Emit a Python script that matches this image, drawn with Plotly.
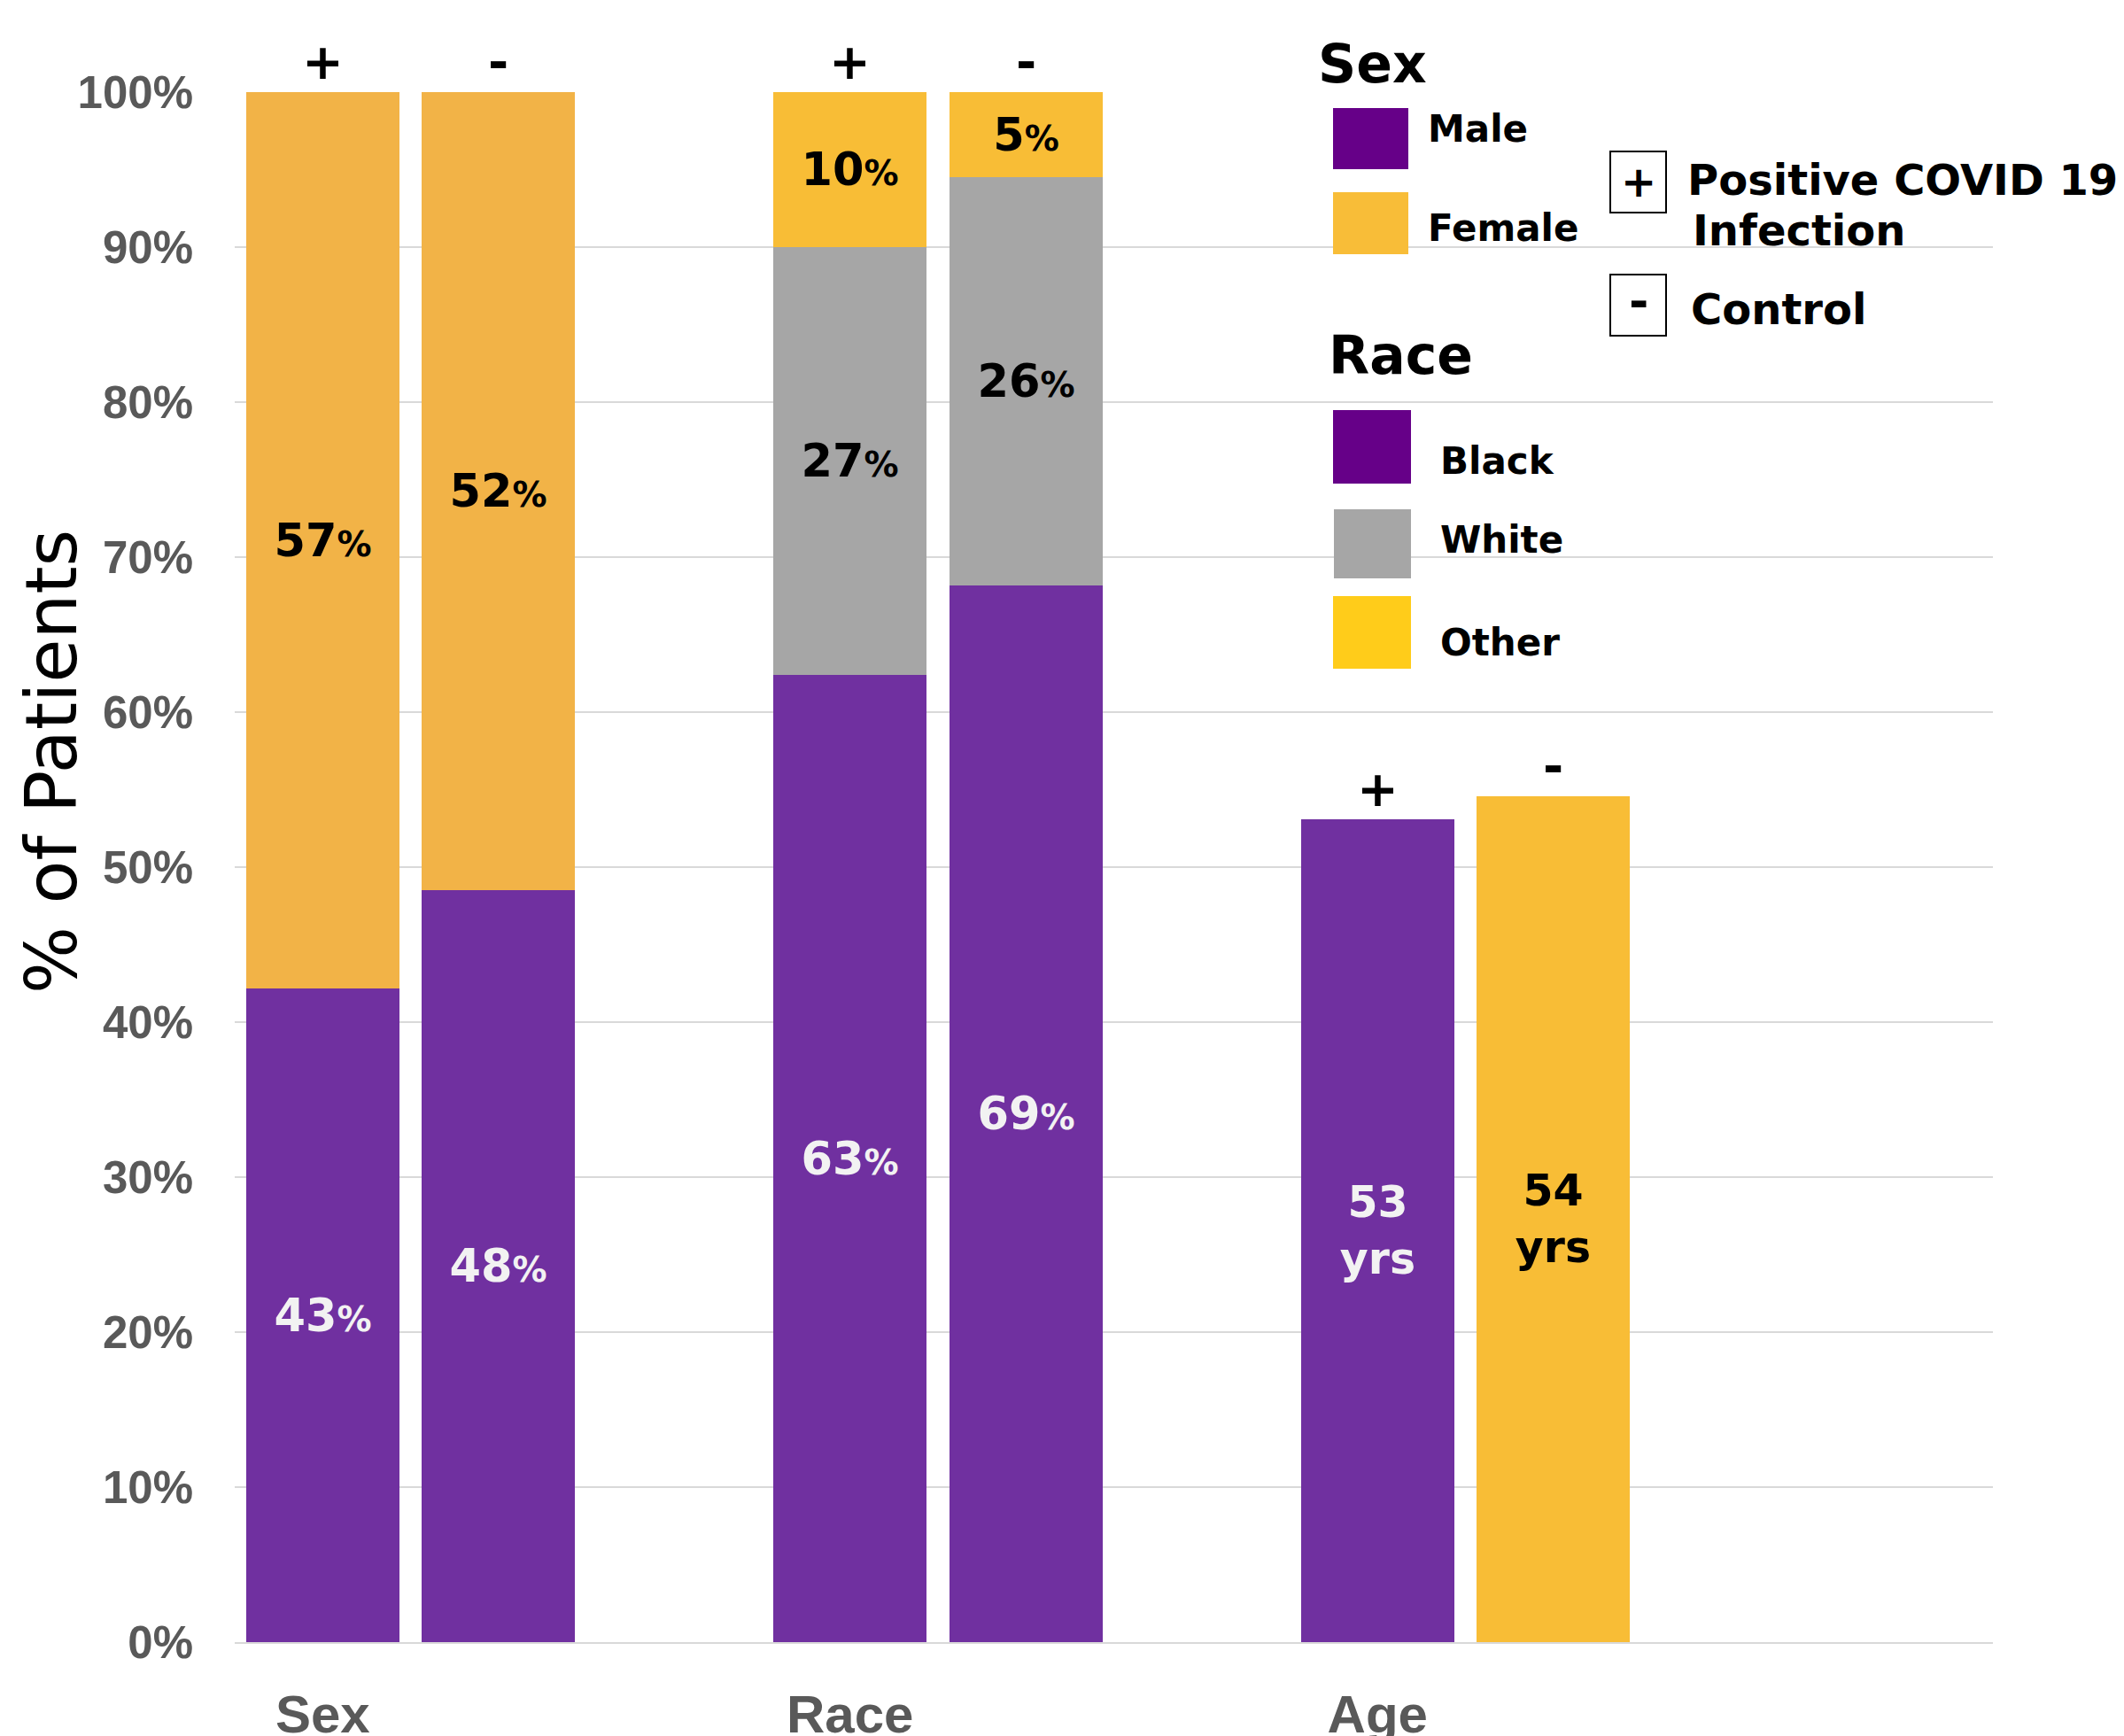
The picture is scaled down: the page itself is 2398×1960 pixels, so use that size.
import plotly.graph_objects as go

# ---------------- data ----------------
group_labels = ["Sex", "Race", "Age"]
group_pos = [0, 3, 6]
sex_x = [0, 1]
race_x = [3, 4]
age_x = [6, 7]
signs = ["+", "-"]

sex_male = [42.2, 48.5]
sex_female = [57.8, 51.5]
sex_male_lbl = ["43", "48"]
sex_female_lbl = ["57", "52"]

race_black = [62.4, 68.2]
race_white = [27.6, 26.3]
race_other = [10.0, 5.5]
race_black_lbl = ["63", "69"]
race_white_lbl = ["27", "26"]
race_other_lbl = ["10", "5"]

age_mean = [53.1, 54.6]
age_lbl = ["53", "54"]

y_ticks = [0, 10, 20, 30, 40, 50, 60, 70, 80, 90, 100]
y_tick_labels = [f"{v}%" for v in y_ticks]

# ---------------- style ----------------
PURPLE = "#7030A0"
ORANGE = "#F2B347"
GOLD = "#F8BD36"
GRAY = "#A6A6A6"
LEG_PURPLE = "#660088"
LEG_ORANGE = "#F8BD38"
LEG_GOLD = "#FFCC1A"
FONT = "DejaVu Sans"
W, H = 2398, 1960
L, R, T, B = 265, 2250, 104, 1854


def pct(lbls):
    return [f"<b>{v}<span style='font-size:39px'>%</span></b>" for v in lbls]


fig = go.Figure()


def add_bar(x, y, color, text, tcolor, name, size=51):
    fig.add_trace(go.Bar(
        x=x, y=y, marker=dict(color=color, line=dict(width=0)), width=0.87,
        text=text, textposition="inside", insidetextanchor="middle",
        textangle=0, constraintext="none",
        textfont=dict(family=FONT, size=size, color=tcolor),
        name=name, showlegend=False, hoverinfo="skip"))


add_bar(sex_x, sex_male, PURPLE, pct(sex_male_lbl), "#F2F2F2", "Male")
add_bar(sex_x, sex_female, ORANGE, pct(sex_female_lbl), "#000000", "Female")
add_bar(race_x, race_black, PURPLE, pct(race_black_lbl), "#F2F2F2", "Black")
add_bar(race_x, race_white, GRAY, pct(race_white_lbl), "#000000", "White")
add_bar(race_x, race_other, GOLD, pct(race_other_lbl), "#000000", "Other")
add_bar(age_x[:1], age_mean[:1], PURPLE, [f"<b>{age_lbl[0]}<br>yrs</b>"], "#F2F2F2", "Age +", 49)
add_bar(age_x[1:], age_mean[1:], GOLD, [f"<b>{age_lbl[1]}<br>yrs</b>"], "#000000", "Age -", 49)

annotations = []
# +/- signs above the bars
tops = [(sex_x, [a + b for a, b in zip(sex_male, sex_female)]),
        (race_x, [a + b + c for a, b, c in zip(race_black, race_white, race_other)]),
        (age_x, age_mean)]
for xs, ys in tops:
    for xi, yi, s in zip(xs, ys, signs):
        annotations.append(dict(x=xi, y=yi, xref="x", yref="y", text=f"<b>{s}</b>",
                                showarrow=False, yanchor="bottom", yshift=0,
                                font=dict(family=FONT, size=56, color="#000000")))


def pp(X, Y):
    return (X - L) / (R - L), (B - Y) / (B - T)


def text_at(X, Y, txt, size, anchor="left", angle=0):
    px, py = pp(X, Y)
    annotations.append(dict(x=px, y=py, xref="paper", yref="paper", text=txt,
                            showarrow=False, xanchor=anchor, yanchor="middle", textangle=angle,
                            font=dict(family=FONT, size=size, color="#000000")))


shapes = []


def rect(X0, Y0, X1, Y1, fill, line=None):
    x0, y0 = pp(X0, Y1)
    x1, y1 = pp(X1, Y0)
    shapes.append(dict(type="rect", xref="paper", yref="paper", x0=x0, y0=y0, x1=x1, y1=y1,
                       fillcolor=fill, line=dict(width=2 if line else 0, color=line or fill),
                       layer="above"))


# y-axis title
text_at(58, 860, "% of Patients", 80, "center", -90)

# legend: Sex
text_at(1486, 72, "<b>Sex</b>", 60)
rect(1505, 122, 1590, 191, LEG_PURPLE)
text_at(1610, 145, "<b>Male</b>", 42)
rect(1505, 217, 1590, 287, LEG_ORANGE)
text_at(1610, 257, "<b>Female</b>", 42)
# legend: Race
text_at(1498, 401, "<b>Race</b>", 60)
rect(1505, 463, 1593, 546, LEG_PURPLE)
text_at(1624, 520, "<b>Black</b>", 42)
rect(1506, 575, 1593, 653, GRAY)
text_at(1624, 609, "<b>White</b>", 42)
rect(1505, 673, 1593, 755, LEG_GOLD)
text_at(1624, 725, "<b>Other</b>", 42)
# legend: +/-
rect(1818, 171, 1881, 240, "#FFFFFF", "#000000")
text_at(1849.5, 205, "<b>+</b>", 48, "center")
text_at(1903, 203, "<b>Positive COVID 19</b>", 48)
text_at(1909, 260, "<b>Infection</b>", 48)
rect(1818, 310, 1881, 379, "#FFFFFF", "#000000")
text_at(1849.5, 340, "<b>-</b>", 54, "center")
text_at(1907, 349, "<b>Control</b>", 48)

fig.update_layout(
    width=W, height=H, barmode="stack", bargap=0,
    paper_bgcolor="white", plot_bgcolor="white",
    margin=dict(l=L, r=W - R, t=T, b=H - B, pad=0, autoexpand=False),
    annotations=annotations, shapes=shapes,
    xaxis=dict(range=[-0.5, 9.5], tickmode="array", tickvals=group_pos, ticktext=group_labels,
               showgrid=False, zeroline=False, showline=True, linecolor="#D9D9D9", linewidth=2,
               ticks="", ticklabelstandoff=28, automargin=False,
               tickfont=dict(family="Liberation Sans", size=60, color="#595959", weight="bold")),
    yaxis=dict(range=[0, 100], tickmode="array", tickvals=y_ticks, ticktext=y_tick_labels,
               showgrid=True, gridcolor="#D9D9D9", gridwidth=2, zeroline=False,
               ticks="", ticklabelstandoff=46, automargin=False,
               tickfont=dict(family="Liberation Sans", size=51, color="#595959", weight="bold")),
)

fig.write_html("out.html")
